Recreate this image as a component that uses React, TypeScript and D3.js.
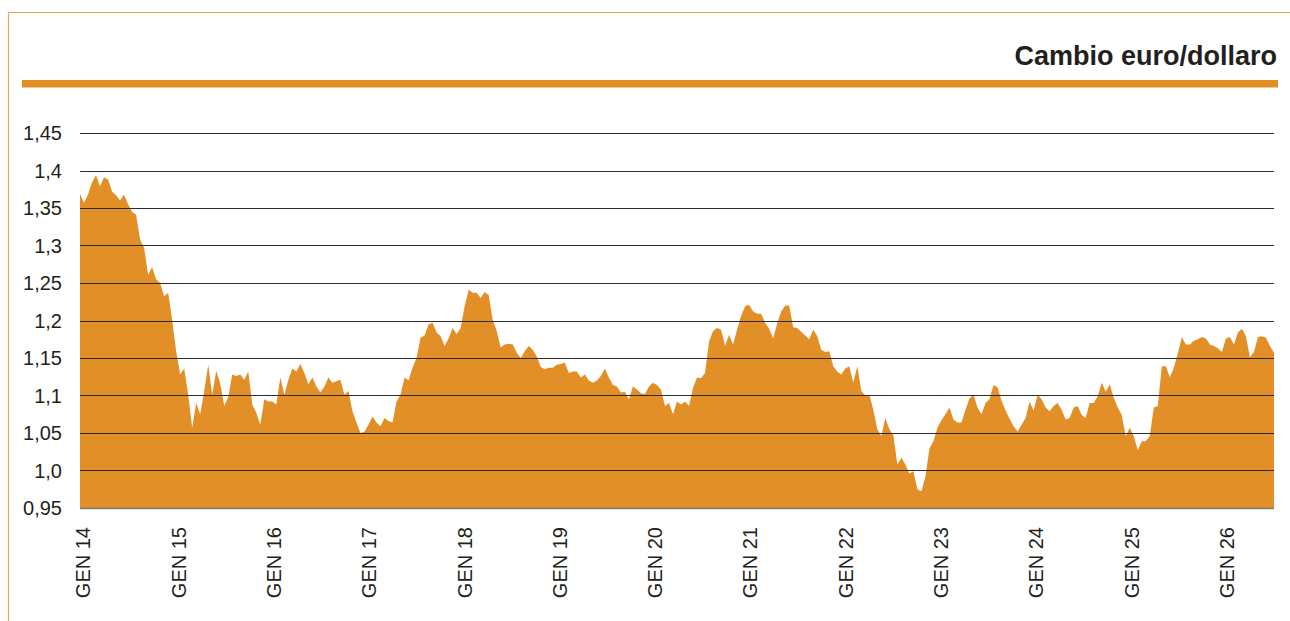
import React, { useEffect, useRef } from 'react'
import * as d3 from 'd3'

// EUR/USD, one reading about every two weeks, from late 2013 to mid 2026
const rate2014 = [
    1.369, 1.357, 1.368, 1.384, 1.394, 1.379, 1.391, 1.388, 1.372, 1.367, 1.36, 1.368, 1.355,
    1.345, 1.341, 1.308, 1.297, 1.261, 1.271, 1.255, 1.25, 1.232, 1.237, 1.201, 1.159,
]
const rate2015 = [
    1.128, 1.136, 1.101, 1.057, 1.09, 1.075, 1.106, 1.141, 1.101, 1.133, 1.116, 1.086, 1.098,
    1.128, 1.126, 1.128, 1.121, 1.132, 1.088, 1.077, 1.061, 1.095, 1.092, 1.092,
]
const rate2016 = [
    1.088, 1.124, 1.101, 1.121, 1.136, 1.132, 1.142, 1.13, 1.115, 1.124, 1.112, 1.104, 1.112,
    1.124, 1.117, 1.119, 1.121, 1.101, 1.106, 1.079, 1.064, 1.05, 1.052, 1.061,
]
const rate2017 = [
    1.072, 1.064, 1.059, 1.07, 1.066, 1.064, 1.092, 1.101, 1.124, 1.12, 1.137, 1.15, 1.177,
    1.18, 1.195, 1.197, 1.184, 1.179, 1.166, 1.176, 1.19, 1.182, 1.19, 1.219, 1.241, 1.237,
]
const rate2018 = [
    1.237, 1.23, 1.238, 1.234, 1.201, 1.186, 1.164, 1.168, 1.169, 1.168, 1.157, 1.15, 1.159,
    1.166, 1.161, 1.152, 1.138, 1.135, 1.137, 1.137, 1.141, 1.142, 1.144,
]
const rate2019 = [
    1.13, 1.132, 1.132, 1.124, 1.128, 1.12, 1.117, 1.12, 1.126, 1.136, 1.124, 1.114, 1.112,
    1.104, 1.105, 1.095, 1.112, 1.108, 1.103, 1.102, 1.112, 1.117, 1.114, 1.108, 1.086, 1.09,
]
const rate2020 = [
    1.075, 1.092, 1.088, 1.092, 1.086, 1.11, 1.124, 1.123, 1.13, 1.172, 1.186, 1.19, 1.188,
    1.166, 1.181, 1.168, 1.188, 1.206, 1.219, 1.221, 1.212, 1.209, 1.209,
]
const rate2021 = [
    1.197, 1.189, 1.176, 1.196, 1.212, 1.22, 1.22, 1.191, 1.19, 1.185, 1.18, 1.175, 1.188,
    1.179, 1.161, 1.158, 1.159, 1.139, 1.132, 1.128, 1.136, 1.139, 1.117, 1.139, 1.106, 1.1, 1.101,
]
const rate2022 = [
    1.081, 1.055, 1.046, 1.07, 1.055, 1.047, 1.008, 1.017, 1.008, 0.996, 0.999, 0.975, 0.972,
    0.992, 1.029, 1.039, 1.057, 1.067, 1.075, 1.084, 1.068, 1.064,
]
const rate2023 = [
    1.064, 1.081, 1.096, 1.101, 1.084, 1.075, 1.09, 1.095, 1.114, 1.111, 1.093, 1.08, 1.069,
    1.059, 1.052, 1.061, 1.07, 1.092, 1.08, 1.101, 1.095, 1.084, 1.079, 1.086, 1.09, 1.081, 1.068,
]
const rate2024 = [
    1.07, 1.084, 1.086, 1.074, 1.07, 1.09, 1.09, 1.099, 1.117, 1.105, 1.115, 1.097, 1.084,
    1.074, 1.046, 1.057, 1.046, 1.027, 1.039, 1.039, 1.046, 1.084, 1.086,
]
const rate2025 = [
    1.139, 1.139, 1.124, 1.137, 1.156, 1.178, 1.168, 1.168, 1.173, 1.175, 1.178, 1.176, 1.168,
    1.166, 1.163, 1.158, 1.176, 1.178, 1.168, 1.184, 1.189, 1.179, 1.151, 1.158, 1.178, 1.179,
    1.177, 1.166, 1.157,
]

const rates = [
    ...rate2014, ...rate2015, ...rate2016, ...rate2017, ...rate2018, ...rate2019,
    ...rate2020, ...rate2021, ...rate2022, ...rate2023, ...rate2024, ...rate2025,
]

const yTicks = [1.45, 1.4, 1.35, 1.3, 1.25, 1.2, 1.15, 1.1, 1.05, 1.0, 0.95]
const yTickLabels = ['1,45', '1,4', '1,35', '1,3', '1,25', '1,2', '1,15', '1,1', '1,05', '1,0', '0,95']
const years = [2014, 2015, 2016, 2017, 2018, 2019, 2020, 2021, 2022, 2023, 2024, 2025, 2026]
const yearLabels = ['GEN 14', 'GEN 15', 'GEN 16', 'GEN 17', 'GEN 18', 'GEN 19', 'GEN 20',
    'GEN 21', 'GEN 22', 'GEN 23', 'GEN 24', 'GEN 25', 'GEN 26']

const title = 'Cambio euro/dollaro'
const firstDate = new Date(2013, 11, 19)
const lastDate = new Date(2026, 6, 1)

const ORANGE = '#e38f27'
const FONT = '"Liberation Sans", Arial, Helvetica, sans-serif'

const App = () => {
    const ref = useRef<SVGSVGElement>(null)

    useEffect(() => {
        draw()
    })

    const draw = () => {
        const width = 1290
        const height = 621
        const left = 80
        const right = 1274
        const top = 133
        const bottom = 508

        const svg = d3.select(ref.current)
        svg.selectAll('*').remove()
        svg.attr('width', width).attr('height', height)

        // outer frame (only top and left edges are visible)
        svg.append('path')
            .attr('d', `M8.5,${height} L8.5,12.5 L${width},12.5`)
            .attr('fill', 'none')
            .attr('stroke', '#eba65a')
            .attr('stroke-width', 1.2)

        // title and thick rule under it
        svg.append('text')
            .attr('x', 1277)
            .attr('y', 65)
            .attr('text-anchor', 'end')
            .attr('font-family', FONT)
            .attr('font-weight', 'bold')
            .attr('font-size', 27)
            .attr('fill', '#231f20')
            .text(title)

        svg.append('rect')
            .attr('x', 22)
            .attr('y', 80)
            .attr('width', 1256)
            .attr('height', 7.5)
            .attr('fill', ORANGE)

        const x = d3.scaleLinear().domain([0, rates.length - 1]).range([left, right])
        const xTime = d3.scaleTime().domain([firstDate, lastDate]).range([left, right])
        const y = d3.scaleLinear().domain([0.95, 1.45]).range([bottom, top])

        // area
        const area = d3.area<number>()
            .x((_, i) => x(i))
            .y0(y(0.95))
            .y1((d) => y(d))
            .curve(d3.curveLinear)

        svg.append('path')
            .datum(rates)
            .attr('d', area)
            .attr('fill', ORANGE)

        // grid lines on top of the area
        svg.append('g')
            .selectAll('line')
            .data(yTicks)
            .enter()
            .append('line')
            .attr('x1', left)
            .attr('x2', right)
            .attr('y1', (d) => Math.round(y(d)) + 0.5)
            .attr('y2', (d) => Math.round(y(d)) + 0.5)
            .attr('stroke', (d) => (d === 0.95 ? '#7a7a7a' : '#2b2b2b'))
            .attr('stroke-width', (d) => (d === 0.95 ? 1.5 : 1))

        // y labels
        svg.append('g')
            .selectAll('text')
            .data(yTicks)
            .enter()
            .append('text')
            .attr('x', 62)
            .attr('y', (d) => y(d))
            .attr('dy', '0.35em')
            .attr('text-anchor', 'end')
            .attr('font-family', FONT)
            .attr('font-size', 20)
            .attr('fill', '#231f20')
            .text((_, i) => yTickLabels[i])

        // x labels, rotated
        svg.append('g')
            .selectAll('text')
            .data(years)
            .enter()
            .append('text')
            .attr('transform', (d) => `translate(${xTime(new Date(d, 0, 1))},527) rotate(-90)`)
            .attr('dy', '0.35em')
            .attr('text-anchor', 'end')
            .attr('font-family', FONT)
            .attr('font-size', 20)
            .attr('fill', '#231f20')
            .text((_, i) => yearLabels[i])
    }

    return (
        <svg
            ref={ref}
            style={{ position: 'absolute', left: 0, top: 0, display: 'block', background: '#fff' }}
        />
    )
}

export default App
